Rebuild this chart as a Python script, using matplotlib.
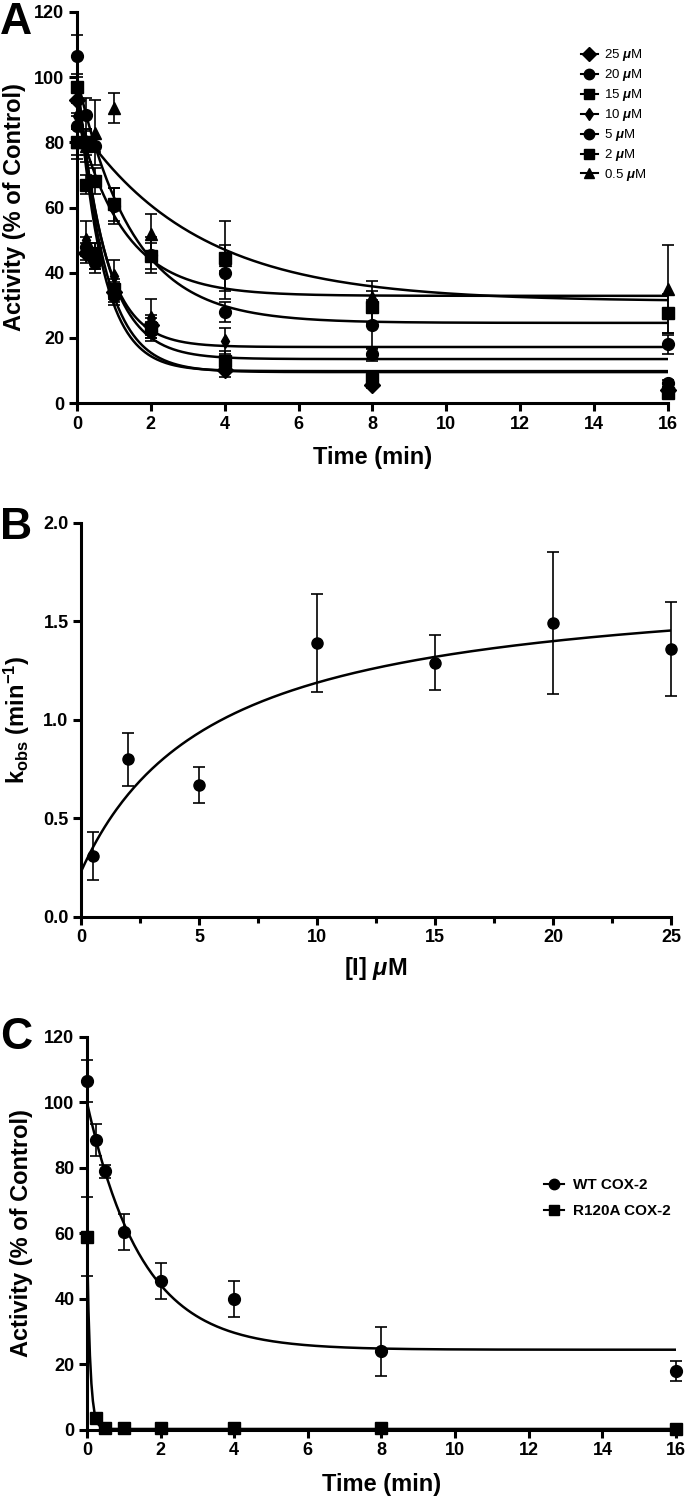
import numpy as np
import matplotlib.pyplot as plt
from matplotlib.lines import Line2D
from matplotlib.ticker import MultipleLocator, FormatStrFormatter

plt.rcParams['font.family'] = ['Liberation Sans', 'DejaVu Sans']
plt.rcParams['font.weight'] = 'bold'
plt.rcParams['mathtext.fontset'] = 'custom'
plt.rcParams['mathtext.rm'] = 'Liberation Sans:bold'
plt.rcParams['mathtext.it'] = 'Liberation Sans:bold:italic'
plt.rcParams['mathtext.bf'] = 'Liberation Sans:bold'
plt.rcParams['mathtext.default'] = 'rm'

# ---- panel A: time course at several inhibitor concentrations ----
times = [0, 0.25, 0.5, 1, 2, 4, 8, 16]
conc_labels = ['25 $\\mathit{\\mu}$M', '20 $\\mathit{\\mu}$M', '15 $\\mathit{\\mu}$M', '10 $\\mathit{\\mu}$M',
               '5 $\\mathit{\\mu}$M', '2 $\\mathit{\\mu}$M', '0.5 $\\mathit{\\mu}$M']
conc_markers = ['D', 'o', 's', 'd', 'o', 's', '^']
conc_msize = [8, 8.5, 8, 7, 8.5, 8, 8]

act_25 = [93, 46, 44, 34, 24, 10, 5.5, 4]
err_25 = [5, 3, 3, 3, 3, 2, 1, 1]
act_20 = [85, 48, 43, 33, 22, 28, 15, 6]
err_20 = [4, 3, 3, 3, 3, 3, 2, 1]
act_15 = [97, 67, 46, 35, 23, 13, 7.5, 3]
err_15 = [4, 3, 3, 3, 3, 3, 1, 1]
act_10 = [88, 50, 45, 39, 26, 19, 6, 5]
err_10 = [4, 6, 4, 5, 6, 4, 1, 1]
act_5 = [106.5, 88.5, 79, 60.5, 45.5, 40, 24, 18]
err_5 = [6.5, 5, 2, 5.5, 5.5, 5.5, 7.5, 3]
act_2 = [80, 80, 68, 61, 45, 44.5, 29.5, 27.5]
err_2 = [4, 4, 4, 5, 4, 4, 5, 6]
act_05 = [80, 79, 83, 90.5, 52, 44, 32.5, 35]
err_05 = [5, 5, 10, 4.7, 6, 12, 5, 13.5]

act_all = [act_25, act_20, act_15, act_10, act_5, act_2, act_05]
err_all = [err_25, err_20, err_15, err_10, err_5, err_2, err_05]

# single-exponential fit parameters (Y0, kobs, plateau)
fit_y0 = [100, 100, 100, 100, 100, 88, 86]
fit_k = [1.36, 1.49, 1.29, 1.39, 0.67, 0.80, 0.31]
fit_plateau = [9.5, 9.8, 13.5, 17.2, 24.6, 32.9, 31.2]

# ---- panel B: kobs vs [I] ----
inhib = [0.5, 2, 5, 10, 15, 20, 25]
kobs = [0.31, 0.80, 0.67, 1.39, 1.29, 1.49, 1.36]
kobs_err = [0.12, 0.135, 0.09, 0.25, 0.14, 0.36, 0.24]
hyp_k0, hyp_kmax, hyp_KI = 0.23, 1.50, 5.64

# ---- panel C: WT vs R120A ----
wt_act = [106.5, 88.5, 79, 60.5, 45.5, 40, 24, 18]
wt_err = [6.5, 5, 2, 5.5, 5.5, 5.5, 7.5, 3]
mut_act = [59, 3.5, 0.5, 0.5, 0.5, 0.5, 0.5, 0.3]
mut_err = [12, 0.5, 0.3, 0.3, 0.3, 0.3, 0.3, 0.3]
wt_fit = (100, 0.67, 24.5)
mut_fit = (59, 12.0, 0.3)

tick_fs = 13
label_fs = 17
lw_axis = 2.2


def style_axes(ax):
    for s in ['top', 'right']:
        ax.spines[s].set_visible(False)
    for s in ['left', 'bottom']:
        ax.spines[s].set_linewidth(lw_axis)
    ax.tick_params(which='major', length=6, width=lw_axis, labelsize=tick_fs, direction='out', pad=3)
    ax.tick_params(which='minor', length=4, width=lw_axis)
    for lab in ax.get_xticklabels() + ax.get_yticklabels():
        lab.set_fontweight('bold')


fig = plt.figure(figsize=(6.93, 15), dpi=100)

# panel A
axA = fig.add_axes([0.1111, 0.7313, 0.8528, 0.2607])
tt = np.linspace(0, 16, 400)
for i in range(len(act_all)):
    axA.plot(tt, fit_plateau[i] + (fit_y0[i] - fit_plateau[i]) * np.exp(-fit_k[i] * tt),
             color='black', lw=1.8, zorder=2)
    axA.errorbar(times, act_all[i], yerr=err_all[i], fmt=conc_markers[i], color='black',
                 ms=conc_msize[i], elinewidth=1.2, capsize=4, capthick=1.2, clip_on=False, zorder=3)
axA.set_xlim(0, 16)
axA.set_ylim(0, 120)
axA.set_xticks(np.arange(0, 17, 2))
axA.set_yticks(np.arange(0, 121, 20))
axA.set_xlabel('Time (min)', fontsize=label_fs, fontweight='bold', labelpad=10)
axA.set_ylabel('Activity (% of Control)', fontsize=label_fs, fontweight='bold', labelpad=6)
style_axes(axA)
handles = [Line2D([], [], color='black', marker=conc_markers[i], ms=conc_msize[i] - 1, lw=1.5)
           for i in range(len(conc_labels))]
axA.legend(handles, conc_labels, loc='upper left', bbox_to_anchor=(0.832, 0.94), frameon=False,
           handlelength=1.3, handletextpad=0.5, labelspacing=0.3, prop={'size': 9.5, 'weight': 'normal'})

# panel B
axB = fig.add_axes([0.1169, 0.3887, 0.8514, 0.2627])
xx = np.linspace(0, 25, 300)
axB.plot(xx, hyp_k0 + hyp_kmax * xx / (hyp_KI + xx), color='black', lw=1.8, zorder=2)
axB.errorbar(inhib, kobs, yerr=kobs_err, fmt='o', color='black', ms=8, elinewidth=1.2,
             capsize=4, capthick=1.2, clip_on=False, zorder=3)
axB.set_xlim(0, 25)
axB.set_ylim(0, 2.0)
axB.xaxis.set_major_locator(MultipleLocator(5))
axB.xaxis.set_minor_locator(MultipleLocator(2.5))
axB.yaxis.set_major_locator(MultipleLocator(0.5))
axB.yaxis.set_major_formatter(FormatStrFormatter('%.1f'))
axB.set_xlabel('[I] $\\mathit{\\mu}$M', fontsize=label_fs, fontweight='bold', labelpad=6)
axB.set_ylabel('k$_{\\mathrm{obs}}$ (min$^{-1}$)', fontsize=label_fs, fontweight='bold', labelpad=8)
style_axes(axB)

# panel C
axC = fig.add_axes([0.1255, 0.0467, 0.85, 0.262])
for (a, k, p) in [wt_fit, mut_fit]:
    axC.plot(tt, p + (a - p) * np.exp(-k * tt), color='black', lw=1.8, zorder=2)
axC.errorbar(times, wt_act, yerr=wt_err, fmt='o', color='black', ms=8.5, elinewidth=1.2,
             capsize=4, capthick=1.2, clip_on=False, zorder=3, label='WT COX-2')
axC.errorbar(times, mut_act, yerr=mut_err, fmt='s', color='black', ms=8, elinewidth=1.2,
             capsize=4, capthick=1.2, clip_on=False, zorder=3, label='R120A COX-2')
axC.set_xlim(0, 16)
axC.set_ylim(0, 120)
axC.set_xticks(np.arange(0, 17, 2))
axC.set_yticks(np.arange(0, 121, 20))
axC.set_xlabel('Time (min)', fontsize=label_fs, fontweight='bold', labelpad=10)
axC.set_ylabel('Activity (% of Control)', fontsize=label_fs, fontweight='bold', labelpad=8)
style_axes(axC)
handlesC = [Line2D([], [], color='black', marker='o', ms=7.5, lw=1.5),
            Line2D([], [], color='black', marker='s', ms=7.5, lw=1.5)]
axC.legend(handlesC, ['WT COX-2', 'R120A COX-2'], loc='upper left', bbox_to_anchor=(0.752, 0.675),
           frameon=False, handlelength=1.3, handletextpad=0.6, labelspacing=0.75,
           prop={'size': 11, 'weight': 'bold'})

for letter, ypos in [('A', 0.999), ('B', 0.662), ('C', 0.322)]:
    fig.text(0.0, ypos, letter, fontsize=32, fontweight='bold', va='top', ha='left')

fig.savefig('out.png', dpi=100)
